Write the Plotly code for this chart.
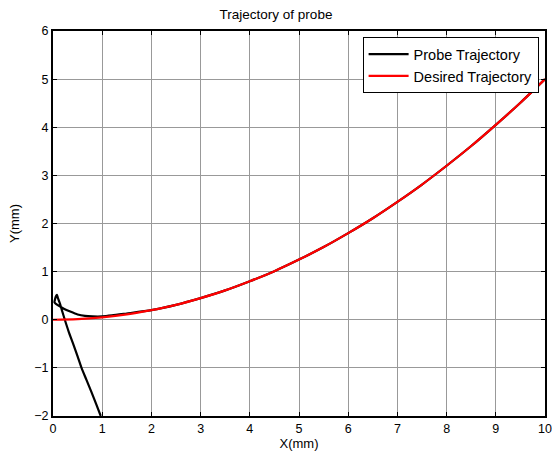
import plotly.graph_objects as go

# Probe trajectory
probe_x = [0.97, 0.88, 0.78, 0.68, 0.58, 0.50, 0.41, 0.32, 0.24, 0.18, 0.14, 0.10, 0.08, 0.06, 0.04, 0.03,
           0.06, 0.12, 0.22, 0.35, 0.50, 0.65, 0.80, 1.00, 1.20, 1.50, 2.0, 2.5, 3.0, 3.5, 4.0, 4.5, 5.0,
           5.5, 6.0, 6.5, 7.0, 7.5, 8.0, 8.5, 9.0, 9.5, 10.0]
probe_y = [-2.00, -1.76, -1.50, -1.25, -1.00, -0.76, -0.50, -0.25, 0.00, 0.20, 0.34, 0.45, 0.52, 0.49, 0.42, 0.36,
           0.33, 0.29, 0.23, 0.17, 0.11, 0.08, 0.07, 0.07, 0.09, 0.13, 0.20, 0.31, 0.45, 0.61, 0.80, 1.01, 1.25,
           1.51, 1.80, 2.11, 2.45, 2.81, 3.20, 3.61, 4.05, 4.51, 5.00]

# Desired trajectory
desired_x = [0, 0.5, 1, 1.5, 2, 2.5, 3, 3.5, 4, 4.5, 5, 5.5, 6, 6.5, 7, 7.5, 8, 8.5, 9, 9.5, 10]
desired_y = [0, 0.0125, 0.05, 0.11, 0.2, 0.31, 0.45, 0.61, 0.8, 1.01, 1.25, 1.51, 1.8, 2.11, 2.45, 2.81,
             3.2, 3.61, 4.05, 4.51, 5.0]

x_ticks = list(range(0, 11))
y_ticks = list(range(-2, 7))

FONT = "Liberation Sans, Arial, sans-serif"

fig = go.Figure()
fig.add_trace(go.Scatter(x=probe_x, y=probe_y, mode="lines", name="Probe Trajectory",
                         line=dict(color="black", width=2.2, shape="spline", smoothing=0.6)))
fig.add_trace(go.Scatter(x=desired_x, y=desired_y, mode="lines", name="Desired Trajectory",
                         line=dict(color="red", width=2.2, shape="spline")))

axis_common = dict(showgrid=True, gridcolor="#999999", gridwidth=1, zeroline=False,
                   showline=True, linecolor="black", linewidth=2, mirror="ticks",
                   ticks="inside", ticklen=4, tickcolor="black", automargin=False,
                   tickfont=dict(family=FONT, size=12.5, color="black"))

fig.update_xaxes(range=[0, 10], tickvals=x_ticks, **axis_common,
                 title=dict(text="X(mm)", font=dict(family=FONT, size=13, color="black"), standoff=2))
fig.update_yaxes(range=[-2, 6], tickvals=y_ticks, **axis_common,
                 title=dict(text="Y(mm)", font=dict(family=FONT, size=13, color="black"), standoff=12))

fig.update_layout(
    width=552, height=460,
    margin=dict(l=53, r=7, t=31, b=44, autoexpand=False),
    plot_bgcolor="white", paper_bgcolor="white",
    title=dict(text="Trajectory of probe", x=0.5, xanchor="center", y=1 - 14 / 460, yanchor="middle",
               font=dict(family=FONT, size=13.5, color="black")),
    legend=dict(x=0.987, y=0.984, xanchor="right", yanchor="top",
                bordercolor="black", borderwidth=1, bgcolor="white",
                font=dict(family=FONT, size=14.5, color="black"),
                tracegroupgap=0, itemwidth=40),
    showlegend=True,
)

fig.write_html("out.html")
